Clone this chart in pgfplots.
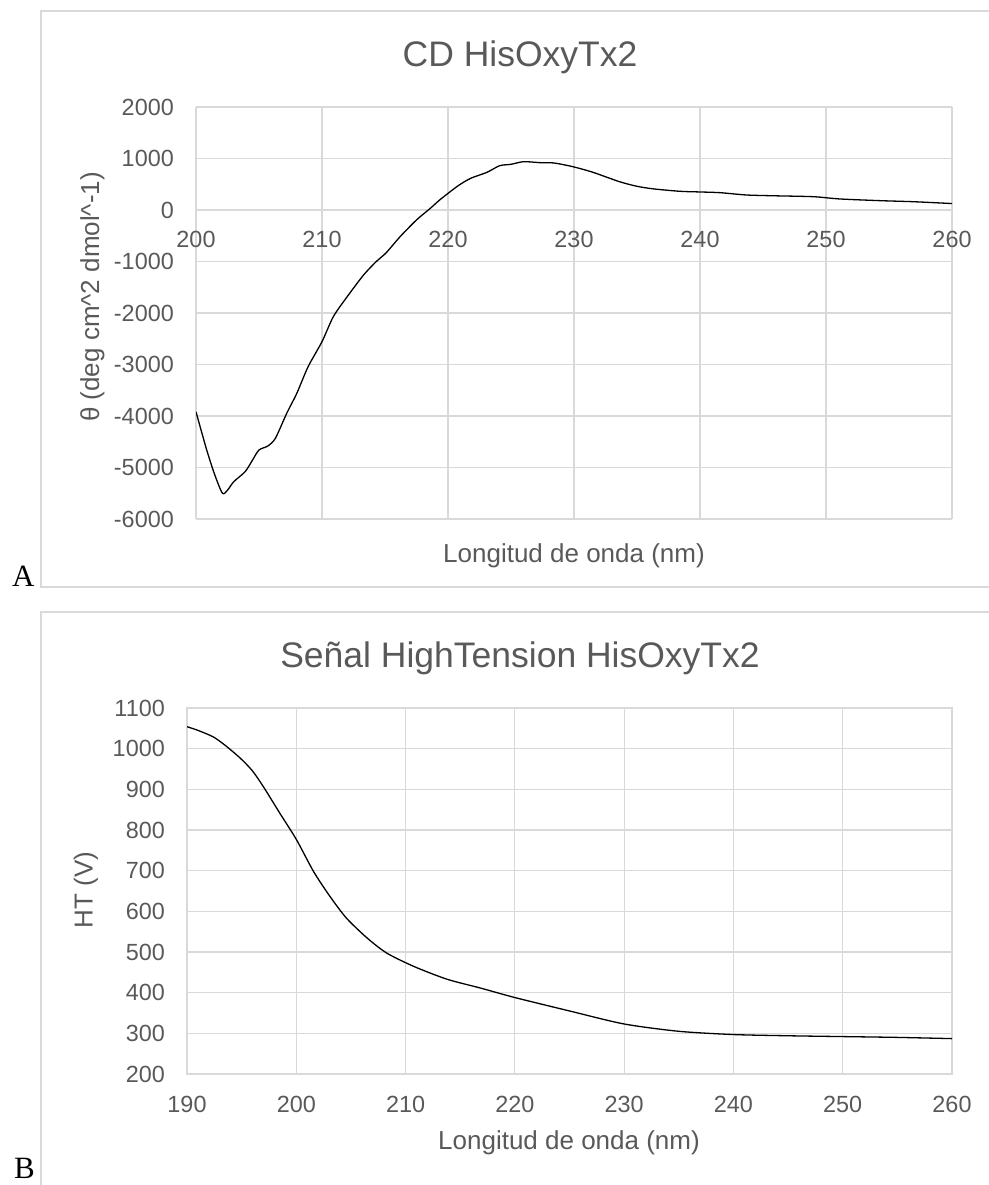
\documentclass[border=0pt]{standalone}
\usepackage{fontspec}
\setmainfont{Liberation Sans}
\newfontfamily\serifA{Liberation Serif}
\usepackage{pgfplots}
\pgfplotsset{compat=1.18}
\definecolor{txt}{HTML}{595959}
\definecolor{gridc}{HTML}{D9D9D9}
\newcommand\tickfont{\fontsize{23.4}{28}\selectfont}
\newcommand\titlefont{\fontsize{35.5}{42}\selectfont}
\newcommand\labfont{\fontsize{26}{31}\selectfont}
\begin{document}
\begin{tikzpicture}[x=1pt,y=1pt]
\path[use as bounding box] (0,0) rectangle (988,1185);
% frames
\draw[gridc, line width=1.5pt] (1000,598) -- (41,598) -- (41,1174) -- (1000,1174);
\draw[gridc, line width=1.5pt] (41,-20) -- (41,573) -- (1000,573);
% panel letters
\node[anchor=base west, inner sep=0pt, font=\serifA\fontsize{31}{36}\selectfont] at (12,598) {A};
\node[anchor=base west, inner sep=0pt, font=\serifA\fontsize{31}{36}\selectfont] at (14,6) {B};

% ---------------- Chart A ----------------
\begin{axis}[
  at={(196pt,666pt)}, anchor=south west,
  scale only axis, width=756pt, height=412pt,
  xmin=200, xmax=260, ymin=-6000, ymax=2000,
  axis x line=middle, axis y line=left,
  hide obscured x ticks=false, hide obscured y ticks=false,
  axis line style={draw=gridc, line width=1.2pt, -},
  grid=major, major grid style={draw=gridc, line width=1.2pt},
  major tick length=0pt,
  xtick={200,210,220,230,240,250,260},
  xticklabels={200,210,220,230,240,250,260},
  ytick={-6000,-5000,-4000,-3000,-2000,-1000,0,1000,2000},
  yticklabels={-6000,-5000,-4000,-3000,-2000,-1000,0,1000,2000},
  scaled ticks=false,
  ticklabel style={font=\tickfont, text=txt},
  xticklabel style={anchor=north, inner sep=0pt, yshift=-21pt},
  yticklabel style={anchor=east, inner sep=0pt, xshift=-22pt},
]
\addplot[black, line width=1.3pt, smooth, tension=0.45] coordinates {
(200,-3920) (200.85,-4660) (201.5,-5150) (202.1,-5500) (202.5,-5440) (203,-5275)
(203.9,-5081) (204.5,-4850) (205,-4660) (205.7,-4583) (206.3,-4433) (207.2,-3948)
(208,-3560) (208.9,-3042) (210,-2557) (210.9,-2071) (212,-1683) (213.3,-1262)
(214.3,-1003) (215.1,-829) (216.2,-518) (217.5,-194) (218.6,33) (219.4,207)
(220.8,470) (221.8,615) (223.1,732) (224.1,860) (225,887) (226,938)
(227.3,919) (228.4,913) (229.9,841) (231.5,732) (233.6,550) (235,460)
(236.3,410) (238.4,363) (240,350) (241.6,336) (243.7,291) (246,275)
(249,258) (251.1,214) (254.3,181) (257,160) (260,125)
};
\end{axis}
\node[anchor=base, font=\titlefont, text=txt] at (520,1118) {CD HisOxyTx2};
\node[anchor=base, font=\labfont, text=txt] at (574,622) {Longitud de onda (nm)};
\node[rotate=90, font=\labfont, text=txt] at (92.5,888) {θ (deg cm\textasciicircum{}2 dmol\textasciicircum{}-1)};

% ---------------- Chart B ----------------
\begin{axis}[
  at={(187pt,111pt)}, anchor=south west,
  scale only axis, width=765pt, height=366pt,
  xmin=190, xmax=260, ymin=200, ymax=1100,
  axis line style={draw=gridc, line width=1.2pt, -},
  grid=major, major grid style={draw=gridc, line width=1.2pt},
  major tick length=0pt,
  xtick={190,200,210,220,230,240,250,260},
  xticklabels={190,200,210,220,230,240,250,260},
  ytick={200,300,400,500,600,700,800,900,1000,1100},
  yticklabels={200,300,400,500,600,700,800,900,1000,1100},
  scaled ticks=false,
  ticklabel style={font=\tickfont, text=txt},
  xticklabel style={anchor=north, inner sep=0pt, yshift=-22pt},
  yticklabel style={anchor=east, inner sep=0pt, xshift=-22pt},
]
\addplot[black, line width=1.3pt, smooth, tension=0.45] coordinates {
(190,1054) (191,1045) (192.4,1029) (193.5,1008) (194.9,976) (196,945)
(197,906) (198.5,841) (200,777) (201.6,697) (203.1,636) (204.6,583)
(206.5,534) (208.3,497) (210.8,464) (213.8,433) (216.9,411) (220,388)
(225,355) (230,323) (235,305) (240,297) (245,294) (250,292) (255,290) (260,287)
};
\end{axis}
\node[anchor=base, font=\titlefont, text=txt] at (520,517) {Señal HighTension HisOxyTx2};
\node[anchor=base, font=\labfont, text=txt] at (569,35) {Longitud de onda (nm)};
\node[rotate=90, font=\labfont, text=txt] at (86,295) {HT (V)};
\end{tikzpicture}
\end{document}
